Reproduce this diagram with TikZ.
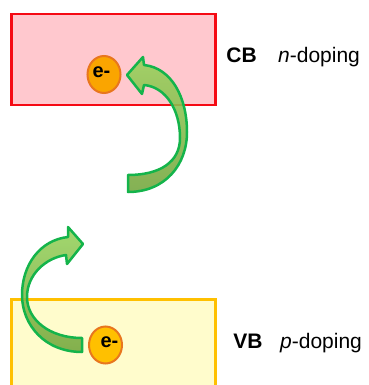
\documentclass[tikz,border=0pt]{standalone}
\usepackage{fontspec}
\setmainfont{Liberation Sans}
\usetikzlibrary{shapes.geometric}
\definecolor{cbfill}{RGB}{255,200,206}
\definecolor{cbline}{RGB}{245,10,20}
\definecolor{vbfill}{RGB}{255,252,204}
\definecolor{vbline}{RGB}{255,192,0}
\definecolor{gborder}{RGB}{20,180,75}
\definecolor{glight}{RGB}{150,210,90}
\definecolor{gdark}{RGB}{115,165,60}
\definecolor{eorange}{RGB}{250,165,0}
\definecolor{eyellow}{RGB}{255,192,0}
\definecolor{eborder}{RGB}{232,118,30}
\begin{document}
\begin{tikzpicture}[x=1pt,y=-1pt,
  band/.style={line width=2.5pt, inner sep=0pt, anchor=north west, minimum width=204pt},
  electron/.style={ellipse, inner sep=0pt, minimum width=33pt, minimum height=37pt, line width=2pt, draw=eborder},
  etext/.style={font=\fontsize{20}{24}\selectfont\bfseries, inner sep=0pt},
  lbl/.style={font=\fontsize{21}{25}\selectfont\bfseries, anchor=base, inner sep=0pt},
  dop/.style={font=\fontsize{21}{25}\selectfont, anchor=base west, inner sep=0pt},
  garrow/.style={draw=gborder, line width=2.5pt, top color=glight, bottom color=gdark, fill opacity=0.88, line join=round}]
\useasboundingbox (0,0) rectangle (368,385);
\clip (0,0) rectangle (368,385);
% bands
\node[band, draw=cbline, fill=cbfill, minimum height=91pt] (cb) at (10,13) {};
\node[band, draw=vbline, fill=vbfill, minimum height=110pt] (vb) at (10,298) {};
% electrons
\node[electron, fill=eorange] (e1) at (104,74.5) {};
\node[etext] (e1t) at (101.5,72) {e-};
\node[electron, fill=eyellow] (e2) at (105.5,345) {};
\node[etext] (e2t) at (109.5,342) {e-};
% labels
\node[lbl] (cbl) at (241.5,63) {CB};
\node[dop] (ndop) at (278,63) {\textit{n}-doping};
\node[lbl] (vbl) at (248,348) {VB};
\node[dop] (pdop) at (280,348) {\textit{p}-doping};
% curved arrows
\draw[garrow] (128,192) .. controls (165,192) and (187,165) .. (187,132)
  .. controls (187,98) and (172,68) .. (144,65) -- (143,57) -- (127,75) -- (142,94) -- (144,85)
  .. controls (166,87) and (180,110) .. (180,138)
  .. controls (180,162) and (160,175) .. (128,175) -- cycle;
\draw[garrow] (82,352) .. controls (45,352) and (22,325) .. (22,295)
  .. controls (22,265) and (40,240) .. (68,237) -- (68,227) -- (83,244) -- (67,264) -- (66,255)
  .. controls (45,258) and (27,275) .. (27,297)
  .. controls (27,320) and (50,338) .. (82,338) -- cycle;
\end{tikzpicture}
\end{document}
